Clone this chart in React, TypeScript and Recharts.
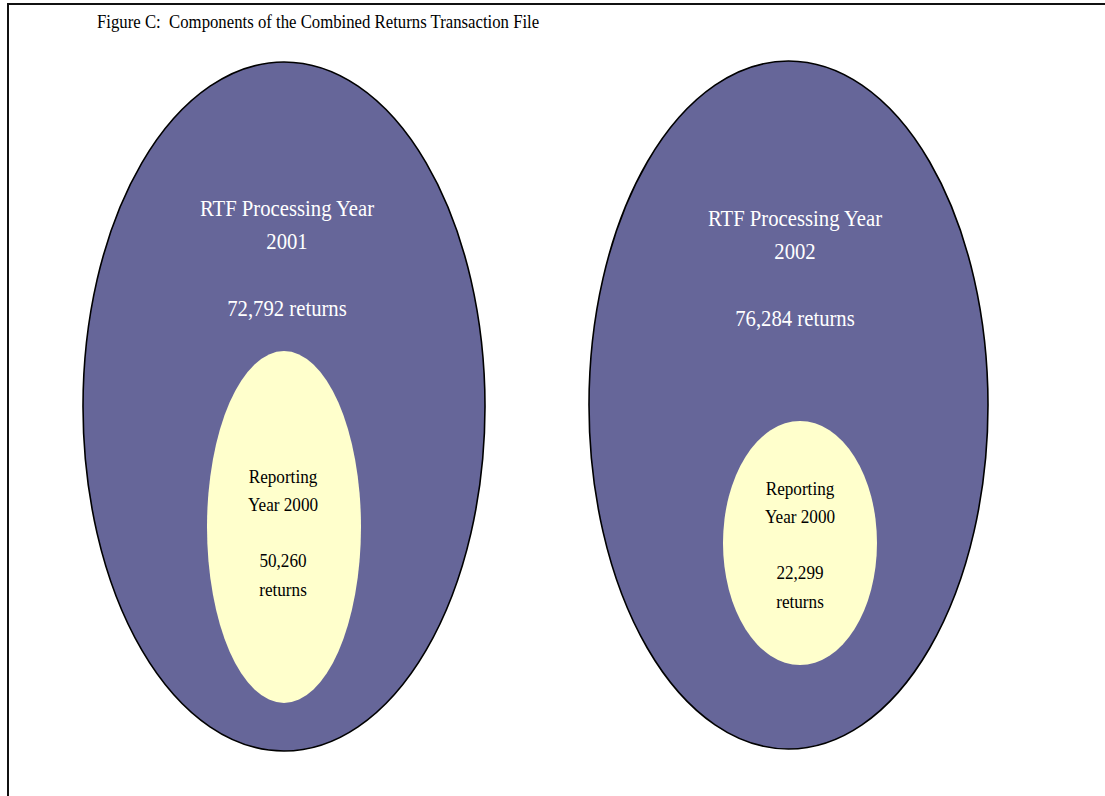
import { ComposedChart, XAxis, YAxis, ReferenceArea, ReferenceDot } from 'recharts';

const processingYears = ['2001', '2002'];
const totalReturns = [72792, 76284];
const reportingYear = '2000';
const subsetReturns = [50260, 22299];

// layout in chart units (1 unit = 1px)
const outerBox = [
  { x1: 83, x2: 485, y1: 62, y2: 751 },
  { x1: 589, x2: 988, y1: 61, y2: 749 },
];
const innerBox = [
  { x1: 207, x2: 361, y1: 351, y2: 703 },
  { x1: 723, x2: 877, y1: 421, y2: 665 },
];
const outerLabelAt = [
  { x: 287, y: 211 },
  { x: 795, y: 221 },
];
const innerLabelAt = [
  { x: 283, y: 479 },
  { x: 800, y: 491 },
];

const W = 1105;
const H = 796;
const serif = '"Liberation Serif", "Times New Roman", serif';
const fmt = (n: number) => n.toLocaleString('en-US');

const Ellipse = (fill: string, stroke?: string) => (props: any) => {
  const { x, y, width, height } = props;
  return (
    <ellipse
      cx={x + width / 2}
      cy={y + height / 2}
      rx={width / 2}
      ry={height / 2}
      fill={fill}
      stroke={stroke || 'none'}
      strokeWidth={stroke ? 1.6 : 0}
    />
  );
};

// narrow serif look: taller glyphs squeezed horizontally
const Lines = (lines: { t: string; dy: number }[], color: string, size: number, sx: number) => (props: any) => {
  const { cx, cy } = props;
  return (
    <text
      transform={`translate(${cx},${cy}) scale(${sx},1)`}
      fill={color}
      fontFamily={serif}
      fontSize={size}
      textAnchor="middle"
      dominantBaseline="middle"
    >
      {lines.map((l, i) => (
        <tspan key={i} x={0} y={l.dy}>{l.t}</tspan>
      ))}
    </text>
  );
};

export default function App() {
  return (
    <div style={{ position: 'absolute', left: 0, top: 0, width: W, height: H, background: '#fff', overflow: 'hidden' }}>
      <div style={{ position: 'absolute', left: 7, top: 3, width: W, height: H, borderTop: '2px solid #111', borderLeft: '2px solid #111' }} />
      <div
        style={{
          position: 'absolute',
          left: 97,
          top: 11,
          fontFamily: serif,
          fontSize: 18,
          lineHeight: '22px',
          color: '#000',
          whiteSpace: 'nowrap',
          transform: 'scaleX(0.93)',
          transformOrigin: 'left top',
        }}
      >
        Figure C:&nbsp; Components of the Combined Returns Transaction File
      </div>
      <div style={{ position: 'absolute', left: 0, top: 0 }}>
        <ComposedChart width={W} height={H} data={[]} margin={{ top: 0, right: 0, bottom: 0, left: 0 }}>
          <XAxis type="number" dataKey="x" domain={[0, W]} hide allowDataOverflow />
          <YAxis type="number" dataKey="y" domain={[0, H]} reversed hide allowDataOverflow />
          {outerBox.map((b, i) => (
            <ReferenceArea key={'o' + i} {...b} shape={Ellipse('#666699', '#000')} />
          ))}
          {innerBox.map((b, i) => (
            <ReferenceArea key={'i' + i} {...b} shape={Ellipse('#FFFFCC')} />
          ))}
          {outerLabelAt.map((p, i) => (
            <ReferenceDot
              key={'ol' + i}
              x={p.x}
              y={p.y}
              r={0}
              shape={Lines(
                [
                  { t: 'RTF Processing Year', dy: 0 },
                  { t: processingYears[i], dy: 33 },
                  { t: `${fmt(totalReturns[i])} returns`, dy: 100 },
                ],
                '#fff',
                23,
                0.9,
              )}
            />
          ))}
          {innerLabelAt.map((p, i) => (
            <ReferenceDot
              key={'il' + i}
              x={p.x}
              y={p.y}
              r={0}
              shape={Lines(
                [
                  { t: 'Reporting', dy: 0 },
                  { t: `Year ${reportingYear}`, dy: 28 },
                  { t: fmt(subsetReturns[i]), dy: 84 },
                  { t: 'returns', dy: 113 },
                ],
                '#000',
                19.5,
                0.88,
              )}
            />
          ))}
        </ComposedChart>
      </div>
    </div>
  );
}
